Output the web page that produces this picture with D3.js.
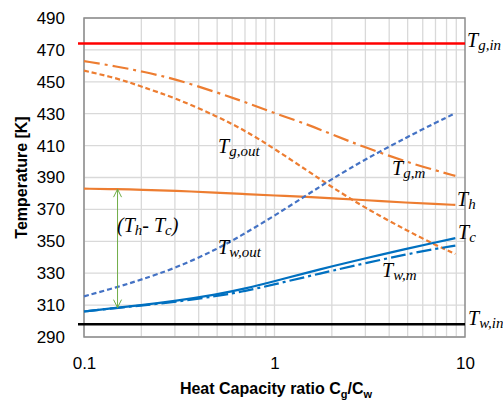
<!DOCTYPE html>
<html lang="en">
<head>
  <meta charset="UTF-8">
  <title>Temperature vs heat capacity ratio</title>
  <style>
    body { margin: 0; background: #fff; }
    .tick text { font-family: "Liberation Sans", Arial, sans-serif; font-size: 17px; fill: #000; }
    .lbl { font-family: "Liberation Serif", "DejaVu Serif", serif; font-style: italic; fill: #000; }
  </style>
</head>
<body>
<svg width="503" height="403"></svg>

<script src="https://cdn.jsdelivr.net/npm/d3@7"></script>
<script>
  // data
  var ratio   = [0.1, 0.15, 0.2, 0.3, 0.5, 0.7, 1, 1.5, 2, 3, 5, 7, 8.9];
  var tGout   = [457, 452.2, 447, 440, 428.3, 419.5, 408, 394, 384, 370.8, 356.5, 347.7, 342];
  var tGm     = [463, 459.5, 456.6, 451.8, 443.3, 437.3, 430.3, 423.2, 417, 408.8, 399.5, 394.5, 391];
  var tWout   = [315.5, 321.3, 326, 333, 345, 355, 366, 379.5, 389, 401.5, 415.5, 424.3, 430.3];
  var tH      = [383, 382.7, 382.3, 381.7, 380.5, 379.6, 378.7, 377.8, 377, 375.8, 374.2, 373.4, 372.8];
  var tC      = [306, 308.4, 310, 312.6, 316.7, 320.3, 325, 330.5, 334.3, 339.3, 345.5, 349.3, 352];
  var tWm     = [306, 308.3, 309.7, 312, 315.6, 318.8, 323, 328, 331.5, 336.3, 342, 345.3, 347.3];
  var tGin = 474, tWin = 298;
  var yTicks = [290, 310, 330, 350, 370, 390, 410, 430, 450, 470, 490];
  var xTicks = [0.1, 1, 10];

  var svg = d3.select('svg');
  var x = d3.scaleLog().domain([0.1, 10]).range([84, 465]);
  var y = d3.scaleLinear().domain([290, 490]).range([337, 18]);

  // grid
  var minor = [];
  [0.1, 1].forEach(function (dec) { for (var k = 1; k <= 9; k++) minor.push(dec * k); });
  svg.append('g').selectAll('line').data(minor).enter().append('line')
    .attr('x1', d => x(d)).attr('x2', d => x(d)).attr('y1', y(290)).attr('y2', y(490))
    .attr('stroke', '#d9d9d9').attr('stroke-width', 1.3);
  svg.append('g').selectAll('line').data(yTicks).enter().append('line')
    .attr('x1', x(0.1)).attr('x2', x(10)).attr('y1', d => y(d)).attr('y2', d => y(d))
    .attr('stroke', '#d9d9d9').attr('stroke-width', 1.3);

  // frame
  svg.append('rect').attr('x', x(0.1)).attr('y', y(490))
    .attr('width', x(10) - x(0.1)).attr('height', y(290) - y(490))
    .attr('fill', 'none').attr('stroke', '#8c8c8c').attr('stroke-width', 1.5);

  // axes
  var yAxis = d3.axisLeft(y).tickValues(yTicks).tickSize(0).tickPadding(19);
  svg.append('g').attr('transform', `translate(${x(0.1)},0)`).call(yAxis)
    .call(g => g.select('.domain').remove());
  var xAxis = d3.axisBottom(x).tickValues(xTicks).tickSize(0).tickPadding(20).tickFormat(d => d);
  svg.append('g').attr('transform', `translate(0,${y(290)})`).call(xAxis)
    .call(g => g.select('.domain').remove());

  // horizontal inlet lines
  svg.append('line').attr('x1', x(0.1) - 6).attr('x2', x(10)).attr('y1', y(tGin)).attr('y2', y(tGin))
    .attr('stroke', '#ff0000').attr('stroke-width', 2.5);
  svg.append('line').attr('x1', x(0.1) - 6).attr('x2', x(10)).attr('y1', y(tWin)).attr('y2', y(tWin))
    .attr('stroke', '#000').attr('stroke-width', 2.5);

  // smoothed curves (basis spline keeps the hand-read points from kinking)
  var line = d3.line().x((d, i) => x(ratio[i])).y(d => y(d)).curve(d3.curveBasis);
  var series = [
    {v: tH,    c: '#ed7d31', dash: null},
    {v: tGout, c: '#ed7d31', dash: '5,3'},
    {v: tGm,   c: '#ed7d31', dash: '16,5,3,5'},
    {v: tWout, c: '#4472c4', dash: '5,3'},
    {v: tWm,   c: '#0070c0', dash: '15,4,3,4'},
    {v: tC,    c: '#0070c0', dash: null}
  ];
  svg.append('g').selectAll('path').data(series).enter().append('path')
    .attr('d', d => line(d.v)).attr('fill', 'none')
    .attr('stroke', d => d.c).attr('stroke-width', 2.2)
    .attr('stroke-dasharray', d => d.dash);

  // double arrow (Th - Tc)
  var ax = x(ratio[1]), aTop = y(tH[1]), aBot = y(tC[1]);
  var green = '#70ad47';
  svg.append('line').attr('x1', ax).attr('x2', ax).attr('y1', aTop).attr('y2', aBot)
    .attr('stroke', green).attr('stroke-width', 1);
  svg.append('path').attr('d', `M${ax - 4},${aTop + 8}L${ax},${aTop}L${ax + 4},${aTop + 8}`)
    .attr('fill', 'none').attr('stroke', green).attr('stroke-width', 1);
  svg.append('path').attr('d', `M${ax - 4},${aBot - 8}L${ax},${aBot}L${ax + 4},${aBot - 8}`)
    .attr('fill', 'none').attr('stroke', green).attr('stroke-width', 1);

  // curve labels
  var labels = [
    {sub: 'g,in',  x: 467, y: 47},
    {sub: 'g,out', x: 218, y: 153},
    {sub: 'g,m',   x: 392, y: 175},
    {sub: 'h',     x: 457, y: 206},
    {sub: 'c',     x: 458, y: 239},
    {sub: 'w,m',   x: 382, y: 277},
    {sub: 'w,out', x: 218, y: 254},
    {sub: 'w,in',  x: 468, y: 325}
  ];
  labels.forEach(function (l) {
    var t = svg.append('text').attr('class', 'lbl').attr('x', l.x).attr('y', l.y).attr('font-size', 20);
    t.append('tspan').text('T');
    t.append('tspan').attr('font-size', 15).attr('dy', 3).text(l.sub);
  });
  var dt = svg.append('text').attr('class', 'lbl').attr('x', 117).attr('y', 232).attr('font-size', 20);
  dt.append('tspan').text('(T');
  dt.append('tspan').attr('font-size', 15).attr('dy', 3).text('h');
  dt.append('tspan').attr('dy', -3).text('- T');
  dt.append('tspan').attr('font-size', 15).attr('dy', 3).text('c');
  dt.append('tspan').attr('dy', -3).text(')');

  // axis titles
  var xt = svg.append('text').attr('x', 276).attr('y', 394).attr('text-anchor', 'middle')
    .attr('font-family', '"Liberation Sans", Arial, sans-serif').attr('font-weight', 'bold').attr('font-size', 16);
  xt.append('tspan').text('Heat Capacity ratio C');
  xt.append('tspan').attr('font-size', 11).attr('dy', 4).text('g');
  xt.append('tspan').attr('dy', -4).text('/C');
  xt.append('tspan').attr('font-size', 11).attr('dy', 4).text('w');

  svg.append('text').attr('transform', `translate(27,${(y(290) + y(490)) / 2}) rotate(-90)`)
    .attr('text-anchor', 'middle').attr('font-family', '"Liberation Sans", Arial, sans-serif')
    .attr('font-weight', 'bold').attr('font-size', 16).text('Temperature [K]');
</script>
</body>
</html>
